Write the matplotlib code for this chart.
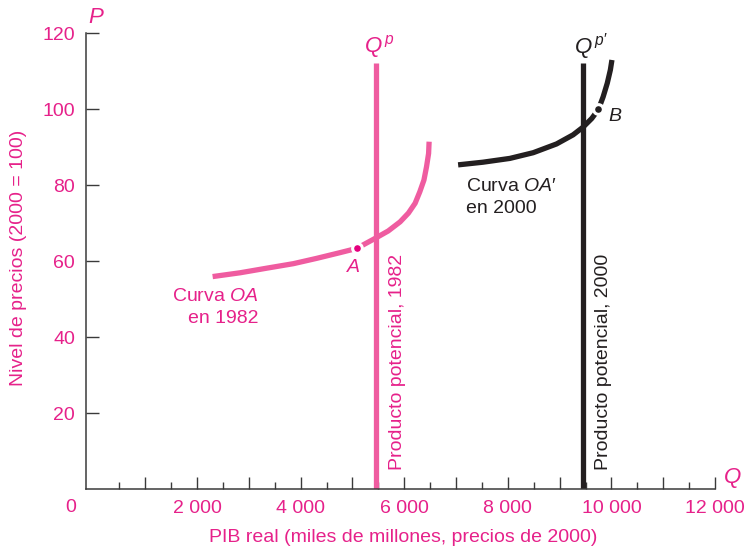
import matplotlib
matplotlib.use("Agg")
import matplotlib.pyplot as plt

# curve OA in 1982 (real GDP, price level)
oa82_q = [2300, 2830, 3340, 3860, 4310, 4760, 5080, 5430, 5690, 5920,
          6080, 6210, 6300, 6380, 6430, 6470, 6480]
oa82_p = [55.9, 56.9, 58.1, 59.3, 60.7, 62.2, 63.3, 65.9, 67.9, 70.3,
          72.6, 75.2, 78.2, 81.3, 84.8, 88.3, 91.4]
# curve OA' in 2000
oa00_q = [7040, 7520, 8040, 8490, 8940, 9260, 9450, 9620, 9750, 9840,
          9920, 9980, 10010]
oa00_p = [85.3, 86.0, 87.0, 88.5, 90.8, 93.2, 95.2, 97.5, 99.9, 103.2,
          106.8, 110.3, 112.9]
# potential output
qp_1982 = 5450
qp_2000 = 9450
qp_top = 112
point_a = (5080, 63.3)
point_b = (9750, 99.9)

x_labels = {2000: "2 000", 4000: "4 000", 6000: "6 000", 8000: "8 000",
            10000: "10 000", 12000: "12 000"}
y_ticks = [20, 40, 60, 80, 100, 120]

pink_line = "#EF5CA0"
pink_text = "#E6218A"
black = "#231F20"
axis_col = "#3A3A3A"

plt.rcParams["font.family"] = "Liberation Sans"
plt.rcParams["mathtext.fontset"] = "custom"
plt.rcParams["mathtext.it"] = "Liberation Sans:italic"
plt.rcParams["mathtext.rm"] = "Liberation Sans"

fig = plt.figure(figsize=(7.46, 5.49), dpi=100)
ax = fig.add_axes([86 / 746, 60 / 549, 629 / 746, 456 / 549])
ax.set_xlim(-145, 12000)
ax.set_ylim(0, 120)

for s in ["top", "right"]:
    ax.spines[s].set_visible(False)
for s in ["left", "bottom"]:
    ax.spines[s].set_color(axis_col)
    ax.spines[s].set_linewidth(1.1)

major_x = list(range(1000, 12001, 1000))
minor_x = list(range(500, 12000, 1000))
ax.set_xticks(major_x)
ax.set_xticklabels([x_labels.get(v, "") for v in major_x])
ax.set_xticks(minor_x, minor=True)
ax.tick_params(axis="x", which="major", direction="in", length=8.5, width=1,
               color=axis_col, labelcolor=pink_text, labelsize=14, pad=8)
ax.tick_params(axis="x", which="minor", direction="in", length=5, width=1,
               color=axis_col)
ax.set_yticks(y_ticks)
ax.tick_params(axis="y", direction="in", length=9.5, width=1, color=axis_col,
               labelcolor=pink_text, labelsize=14, pad=8)

ax.text(-450, -5, "0", color=pink_text, fontsize=14, ha="center", va="center",
        clip_on=False)

# potential output lines
ax.plot([qp_1982, qp_1982], [0, qp_top], color=pink_line, lw=3.8,
        solid_capstyle="butt", zorder=2)
ax.plot([qp_2000, qp_2000], [0, qp_top], color=black, lw=3.8,
        solid_capstyle="butt", zorder=2)

# OA curves
ax.plot(oa82_q, oa82_p, color=pink_line, lw=3.8, solid_capstyle="butt",
        solid_joinstyle="round", zorder=3)
ax.plot(oa00_q, oa00_p, color=black, lw=3.8, solid_capstyle="butt",
        solid_joinstyle="round", zorder=3)

ax.plot(*point_a, "o", ms=7, mfc="#E5007E", mec="white", mew=2.2, zorder=4)
ax.plot(*point_b, "o", ms=7, mfc=black, mec="white", mew=2.2, zorder=4)

ax.text(5010, 58.2, "A", style="italic", color=pink_text, fontsize=14,
        ha="center", va="center")
ax.text(10060, 97.9, "B", style="italic", color=black, fontsize=14,
        ha="center", va="center")

ax.text(5520, 116.5, r"$\mathit{Q}^{\,p}$", color=pink_text, fontsize=16,
        ha="center", va="center", clip_on=False)
ax.text(9600, 116.5, r"$\mathit{Q}^{\,p\prime}$", color=black, fontsize=16,
        ha="center", va="center", clip_on=False)

ax.text(3180, 47.8, "Curva $\\mathit{OA}$\nen 1982", color=pink_text,
        fontsize=14, ha="right", va="center", multialignment="right",
        linespacing=1.35)
ax.text(7190, 76.7, "Curva $\\mathit{OA\u2032}$\nen 2000", color=black,
        fontsize=14, ha="left", va="center", multialignment="left",
        linespacing=1.35)

ax.text(5860, 5, "Producto potencial, 1982", color=pink_text, fontsize=14,
        rotation=90, ha="center", va="bottom")
ax.text(9840, 5, "Producto potencial, 2000", color=black, fontsize=14,
        rotation=90, ha="center", va="bottom")

ax.text(50, 124.2, "P", style="italic", color=pink_text, fontsize=16,
        ha="center", va="center", clip_on=False)
ax.text(12345, 2.9, "Q", style="italic", color=pink_text, fontsize=16,
        ha="center", va="center", clip_on=False)

fig.text(19 / 746, 1 - 258 / 549, "Nivel de precios (2000 = 100)",
         color=pink_text, fontsize=14, rotation=90, ha="center", va="center")
fig.text(403 / 746, 1 - 537 / 549,
         "PIB real (miles de millones, precios de 2000)",
         color=pink_text, fontsize=14, ha="center", va="center")

fig.savefig("out.png", dpi=100)
